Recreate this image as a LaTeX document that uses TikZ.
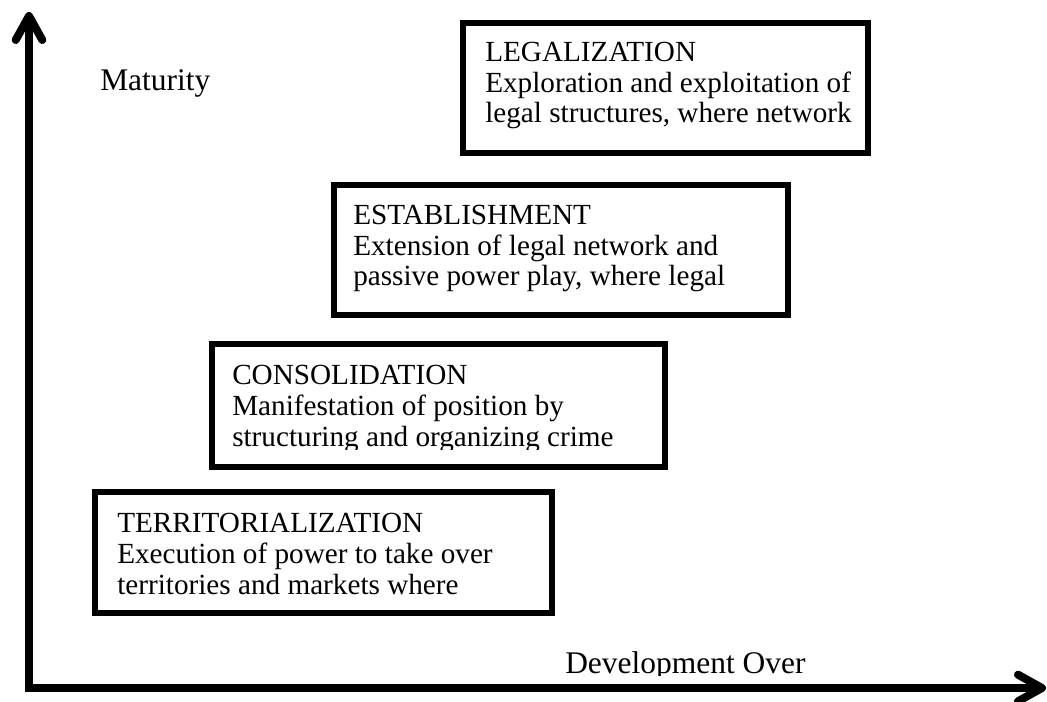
\documentclass[tikz,border=0pt]{standalone}
\usepackage{fontspec}
\setmainfont{Liberation Serif}
\usetikzlibrary{arrows.meta}

\begin{document}
\begin{tikzpicture}[x=0.75pt, y=-0.75pt,
		axis/.style={line width=6pt, line cap=rect, -{Straight Barb[length=18pt, width=20pt, line cap=round, line join=round]}},
		stage/.style={draw, line width=4.1pt, outer sep=0pt, inner sep=0pt, anchor=north west},
		stagetext/.style={anchor=base west, inner sep=0pt, align=left, font=\fontsize{21.9}{22.9}\selectfont},
		axistext/.style={anchor=base west, inner sep=0pt, font=\fontsize{23.6}{26}\selectfont}]
		\def\px{0.75pt};
	
		\useasboundingbox (0,0) rectangle (1047,702);
	
		% axes
		\coordinate (origin) at (29,688);
		\coordinate (ytip) at (29,12);
		\coordinate (xtip) at (1046,688);
		\draw[axis] (origin) -- (ytip);
		\draw[axis] (origin) -- (xtip);
	
		\node[axistext] (ylabel) at (100,91) {Maturity};
		\begin{scope}
			\clip (500,600) rectangle (900,675);
			\node[axistext] (xlabel) at (565,673) {Development Over};
		\end{scope}
	
		% stages
		\node[stage, minimum width=405*\px, minimum height=130*\px] (legalization) at (463,23) {};
		\node[stage, minimum width=454*\px, minimum height=130*\px] (establishment) at (334,185) {};
		\node[stage, minimum width=453*\px, minimum height=123*\px] (consolidation) at (212,344) {};
		\node[stage, minimum width=457*\px, minimum height=121*\px] (territorialization) at (95,492) {};
	
		% base anchor sits on the last line
		\node[stagetext] (legalizationtext) at (485,123) {LEGALIZATION\\Exploration and exploitation of\\legal structures, where network};
		\node[stagetext] (establishmenttext) at (353,286) {ESTABLISHMENT\\Extension of legal network and\\passive power play, where legal};
		\begin{scope}
			\clip (212,344) rectangle (665,450);
			\node[stagetext] (consolidationtext) at (232,446) {CONSOLIDATION\\Manifestation of position by\\structuring and organizing crime};
		\end{scope}
		\node[stagetext] (territorializationtext) at (117,594) {TERRITORIALIZATION\\Execution of power to take over\\territories and markets where};
	\end{tikzpicture}
\end{document}
